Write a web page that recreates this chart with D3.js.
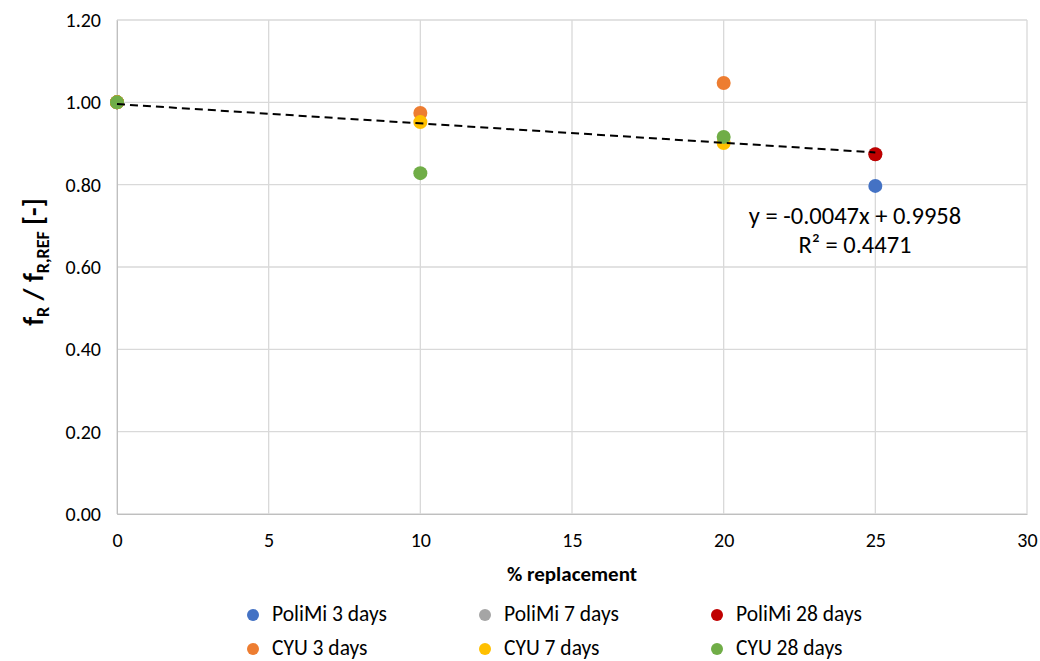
<!DOCTYPE html>
<html>
<head>
<meta charset="utf-8">
<script src="https://cdn.jsdelivr.net/npm/d3@7"></script>
<style>
  html, body { margin: 0; padding: 0; background: #fff; }
  svg { display: block; font-family: Calibri, Carlito, Lato, "Open Sans", sans-serif; }
</style>
</head>
<body>
<svg id="chart" width="1040" height="661"></svg>
<script>
// Relative flexural strength vs. replacement level
const seriesNames = ["PoliMi 3 days", "PoliMi 7 days", "PoliMi 28 days", "CYU 3 days", "CYU 7 days", "CYU 28 days"];
const seriesColors = ["#4472c4", "#a5a5a5", "#c00000", "#ed7d31", "#ffc000", "#70ad47"];
const poliMiX = [0, 25];
const cyuX = [0, 10, 20];
const poliMi3 = [1.00, 0.797];
const poliMi7 = [1.00, 0.874];
const poliMi28 = [1.00, 0.874];
const cyu3 = [1.00, 0.974, 1.047];
const cyu7 = [1.00, 0.952, 0.901];
const cyu28 = [1.00, 0.828, 0.916];
const xTicks = [0, 5, 10, 15, 20, 25, 30];
const yTicks = [0, 0.2, 0.4, 0.6, 0.8, 1.0, 1.2];
const trendSlope = -0.0047;
const trendIntercept = 0.9958;
const trendRange = [0, 25];
const trendLabel = ["y = -0.0047x + 0.9958", "R² = 0.4471"];

const seriesX = [poliMiX, poliMiX, poliMiX, cyuX, cyuX, cyuX];
const seriesY = [poliMi3, poliMi7, poliMi28, cyu3, cyu7, cyu28];

const svg = d3.select("#chart");
const plot = { left: 117, right: 1027, top: 20, bottom: 514 };

const x = d3.scaleLinear().domain([0, 30]).range([plot.left, plot.right]);
const y = d3.scaleLinear().domain([0, 1.2]).range([plot.bottom, plot.top]);

// Gridlines
svg.append("g").selectAll("line").data(xTicks).join("line")
  .attr("x1", d => x(d)).attr("x2", d => x(d))
  .attr("y1", plot.top).attr("y2", plot.bottom)
  .attr("stroke", "#d9d9d9").attr("stroke-width", 1.3);
svg.append("g").selectAll("line").data(yTicks).join("line")
  .attr("x1", plot.left).attr("x2", plot.right)
  .attr("y1", d => y(d)).attr("y2", d => y(d))
  .attr("stroke", "#d9d9d9").attr("stroke-width", 1.3);

// Axes (tick labels; the grid supplies the lines)
const xAxis = svg.append("g").attr("transform", `translate(0,${plot.bottom})`)
  .call(d3.axisBottom(x).tickValues(xTicks).tickSize(0).tickPadding(19).tickFormat(d3.format("d")));
xAxis.select(".domain").attr("stroke", "#bfbfbf");
xAxis.selectAll("text").attr("font-size", 20).attr("fill", "#000")
  .attr("font-family", "Calibri, Carlito, Lato, sans-serif");

const yAxis = svg.append("g").attr("transform", `translate(${plot.left},0)`)
  .call(d3.axisLeft(y).tickValues(yTicks).tickSize(0).tickPadding(16).tickFormat(d3.format(".2f")));
yAxis.select(".domain").attr("stroke", "#bfbfbf");
yAxis.selectAll("text").attr("font-size", 20).attr("fill", "#000")
  .attr("font-family", "Calibri, Carlito, Lato, sans-serif");

// Axis titles
svg.append("text")
  .attr("x", (plot.left + plot.right) / 2).attr("y", 581)
  .attr("text-anchor", "middle").attr("font-size", 21).attr("font-weight", "bold")
  .text("% replacement");

const yTitle = svg.append("text")
  .attr("transform", `translate(43,262) rotate(-90)`)
  .attr("text-anchor", "middle").attr("font-size", 28).attr("font-weight", "bold");
yTitle.append("tspan").text("f");
yTitle.append("tspan").attr("font-size", 18).attr("dy", 6).text("R");
yTitle.append("tspan").attr("dy", -6).text(" / f");
yTitle.append("tspan").attr("font-size", 18).attr("dy", 6).text("R,REF");
yTitle.append("tspan").attr("dy", -6).text(" [-]");

// Data points
seriesNames.forEach((name, i) => {
  const pts = seriesX[i].map((xv, j) => ({ x: xv, y: seriesY[i][j] }));
  svg.append("g").selectAll("circle").data(pts).join("circle")
    .attr("cx", d => x(d.x)).attr("cy", d => y(d.y)).attr("r", 7)
    .attr("fill", seriesColors[i]);
});

// Linear trendline
svg.append("line")
  .attr("x1", x(trendRange[0])).attr("y1", y(trendIntercept + trendSlope * trendRange[0]))
  .attr("x2", x(trendRange[1])).attr("y2", y(trendIntercept + trendSlope * trendRange[1]))
  .attr("stroke", "#000").attr("stroke-width", 2).attr("stroke-dasharray", "8,5");

svg.append("g").selectAll("text").data(trendLabel).join("text")
  .attr("x", 855).attr("y", (d, i) => 224 + i * 29)
  .attr("text-anchor", "middle").attr("font-size", 24.5).text(d => d);

// Legend
const legend = svg.append("g");
seriesNames.forEach((name, i) => {
  const col = i % 3, row = Math.floor(i / 3);
  const lx = 253 + col * 232, ly = 615 + row * 34;
  legend.append("circle").attr("cx", lx).attr("cy", ly).attr("r", 6).attr("fill", seriesColors[i]);
  legend.append("text").attr("x", lx + 19).attr("y", ly + 6).attr("font-size", 21.5).text(name);
});
</script>
</body>
</html>
